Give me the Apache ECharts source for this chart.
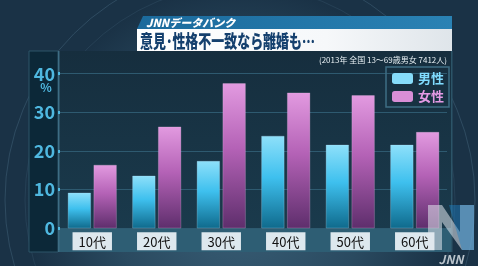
<!DOCTYPE html>
<html><head><meta charset="utf-8">
<script src="https://cdn.jsdelivr.net/npm/echarts@6/dist/echarts.min.js"></script>
<style>html,body{margin:0;padding:0;background:#1e3a4e}#c{width:478px;height:266px}</style>
</head><body><div id="c"></div>
<script>
const categories = ['10代','20代','30代','40代','50代','60代'];
const seriesNames = ['男性','女性'];
const male = [9.2, 13.6, 17.4, 23.9, 21.6, 21.6];
const female = [16.4, 26.3, 37.5, 35.1, 34.4, 24.9];
const yTicks = [0, 10, 20, 30, 40];
const titleText = '意見･性格不一致なら離婚も…';
const bannerText = 'JNNデータバンク';
const noteText = '(2013年 全国 13～69歳男女 7412人)';

const FONT = '"Noto Sans CJK JP", "Noto Sans", sans-serif';
const chart = echarts.init(document.getElementById('c'));
const grad3 = (a, b, c) => new echarts.graphic.LinearGradient(0, 0, 0, 1, [{offset: 0, color: a}, {offset: 0.45, color: b}, {offset: 1, color: c}]);
const grad = (a, b) => new echarts.graphic.LinearGradient(0, 0, 0, 1, [{offset: 0, color: a}, {offset: 1, color: b}]);

chart.setOption({
  backgroundColor: new echarts.graphic.RadialGradient(0.5, 0.75, 0.8, [
    {offset: 0, color: '#3a6078'}, {offset: 0.6, color: '#2a4a60'}, {offset: 1, color: '#1a3246'}
  ]),
  animation: false,
  graphic: [
    {type: 'circle', shape: {cx: 240, cy: 200, r: 235}, style: {fill: null, stroke: 'rgba(140,190,215,0.18)', lineWidth: 1}, z: -30, silent: true},
    {type: 'circle', shape: {cx: 240, cy: 200, r: 215}, style: {fill: null, stroke: 'rgba(140,190,215,0.10)', lineWidth: 1}, z: -30, silent: true},
    // panel backgrounds
    {type: 'rect', shape: {x: 59, y: 51, width: 393, height: 178}, style: {fill: grad('#162e3e', '#1a3a4c')}, z: -20, silent: true},
    {type: 'rect', shape: {x: 59, y: 228, width: 393, height: 24}, style: {fill: '#2e5e74'}, z: -20, silent: true},
    {type: 'rect', shape: {x: 29, y: 51, width: 29, height: 201}, style: {fill: '#0c2838', stroke: '#2c5468', lineWidth: 1}, z: -19, silent: true},
    {type: 'rect', shape: {x: 58, y: 51, width: 1.5, height: 201}, style: {fill: '#3d6d84'}, z: -18, silent: true},
    {type: 'rect', shape: {x: 451, y: 51, width: 1.5, height: 201}, style: {fill: '#2c5468'}, z: -18, silent: true},
    // title banner
    {type: 'polygon', shape: {points: [[143, 16], [452, 16], [452, 29], [137, 29]]}, style: {fill: new echarts.graphic.LinearGradient(0, 0, 1, 0, [{offset: 0, color: '#1b6a9c'}, {offset: 1, color: '#2a82b4'}])}, z: 50},
    {type: 'text', x: 146, y: 23, style: {text: bannerText, fill: '#ffffff', font: 'italic 900 11px ' + FONT, textVerticalAlign: 'middle'}, z: 51},
    {type: 'rect', shape: {x: 137, y: 29, width: 315, height: 22}, style: {fill: new echarts.graphic.LinearGradient(0, 0, 1, 0, [{offset: 0, color: '#ffffff'}, {offset: 0.6, color: '#f6f8fa'}, {offset: 1, color: '#dfe5ea'}])}, z: 50},
    {type: 'text', x: 140, y: 41, scaleX: 0.72, style: {text: titleText, fill: '#15406e', font: '900 18px ' + FONT, textVerticalAlign: 'middle'}, z: 51},
    {type: 'text', x: 447, y: 60, style: {text: noteText, fill: '#e8f0f4', font: '8px ' + FONT, textAlign: 'right', textVerticalAlign: 'middle'}, z: 51},
    {type: 'text', x: 46, y: 87, style: {text: '%', fill: '#4fb8e0', font: 'bold 12px ' + FONT, textAlign: 'center', textVerticalAlign: 'middle'}, z: 51},
    // JNN logo
    {type: 'polygon', shape: {points: [[428, 205], [442, 205], [460, 232], [460, 205], [474, 205], [474, 250], [462, 250], [442, 222], [442, 250], [428, 250]]}, style: {fill: 'rgba(225,232,238,0.55)'}, z: 60},
    {type: 'polygon', shape: {points: [[449, 205], [474, 205], [474, 250], [462, 250]]}, style: {fill: 'rgba(30,130,200,0.45)'}, z: 61},
    {type: 'text', x: 451, y: 259, style: {text: 'JNN', fill: 'rgba(215,222,228,0.85)', font: 'italic bold 12px ' + FONT, textAlign: 'center', textVerticalAlign: 'middle'}, z: 61}
  ],
  legend: {
    data: [
      {name: seriesNames[0], textStyle: {color: '#80dcff'}, itemStyle: {color: '#86dcfa', borderWidth: 0}},
      {name: seriesNames[1], textStyle: {color: '#e49ae4'}, itemStyle: {color: '#d88ed6', borderWidth: 0}}
    ],
    orient: 'vertical', left: 386, top: 67,
    itemWidth: 21, itemHeight: 11, itemGap: 5,
    padding: [5, 5, 4, 6],
    borderColor: '#3e6e84', borderWidth: 1.5,
    textStyle: {fontSize: 13, fontWeight: 'bold', fontFamily: FONT},
    selectedMode: false
  },
  grid: {left: 60, right: 31, top: 73.7, bottom: 37.7},
  xAxis: {
    type: 'category', data: categories,
    axisLine: {show: false}, axisTick: {show: false},
    axisLabel: {
      color: '#111', fontSize: 13, fontFamily: FONT, margin: 4,
      backgroundColor: '#dde8ee', padding: [2, 6, 1, 6], lineHeight: 15
    }
  },
  yAxis: {
    type: 'value', min: yTicks[0], max: yTicks[yTicks.length - 1], interval: 10,
    axisLine: {show: false},
    axisTick: {show: true, length: 2, lineStyle: {color: '#4fb8e0', width: 3}},
    axisLabel: {color: '#4fb8e0', fontSize: 18, fontWeight: 'bold', fontFamily: FONT, margin: 5},
    splitLine: {lineStyle: {color: '#2e5a70', width: 1}}
  },
  series: [
    {name: seriesNames[0], type: 'bar', data: male, barWidth: 23, barGap: '12%',
      itemStyle: {color: grad3('#8ee0fa', '#3ec0ee', '#0f6a8c'), borderColor: 'rgba(190,235,255,0.5)', borderWidth: 0.5}},
    {name: seriesNames[1], type: 'bar', data: female, barWidth: 23, barGap: '12%',
      itemStyle: {color: grad3('#e29ae0', '#b462b6', '#5e2e6c'), borderColor: 'rgba(245,200,240,0.5)', borderWidth: 0.5}}
  ]
});
</script></body></html>
